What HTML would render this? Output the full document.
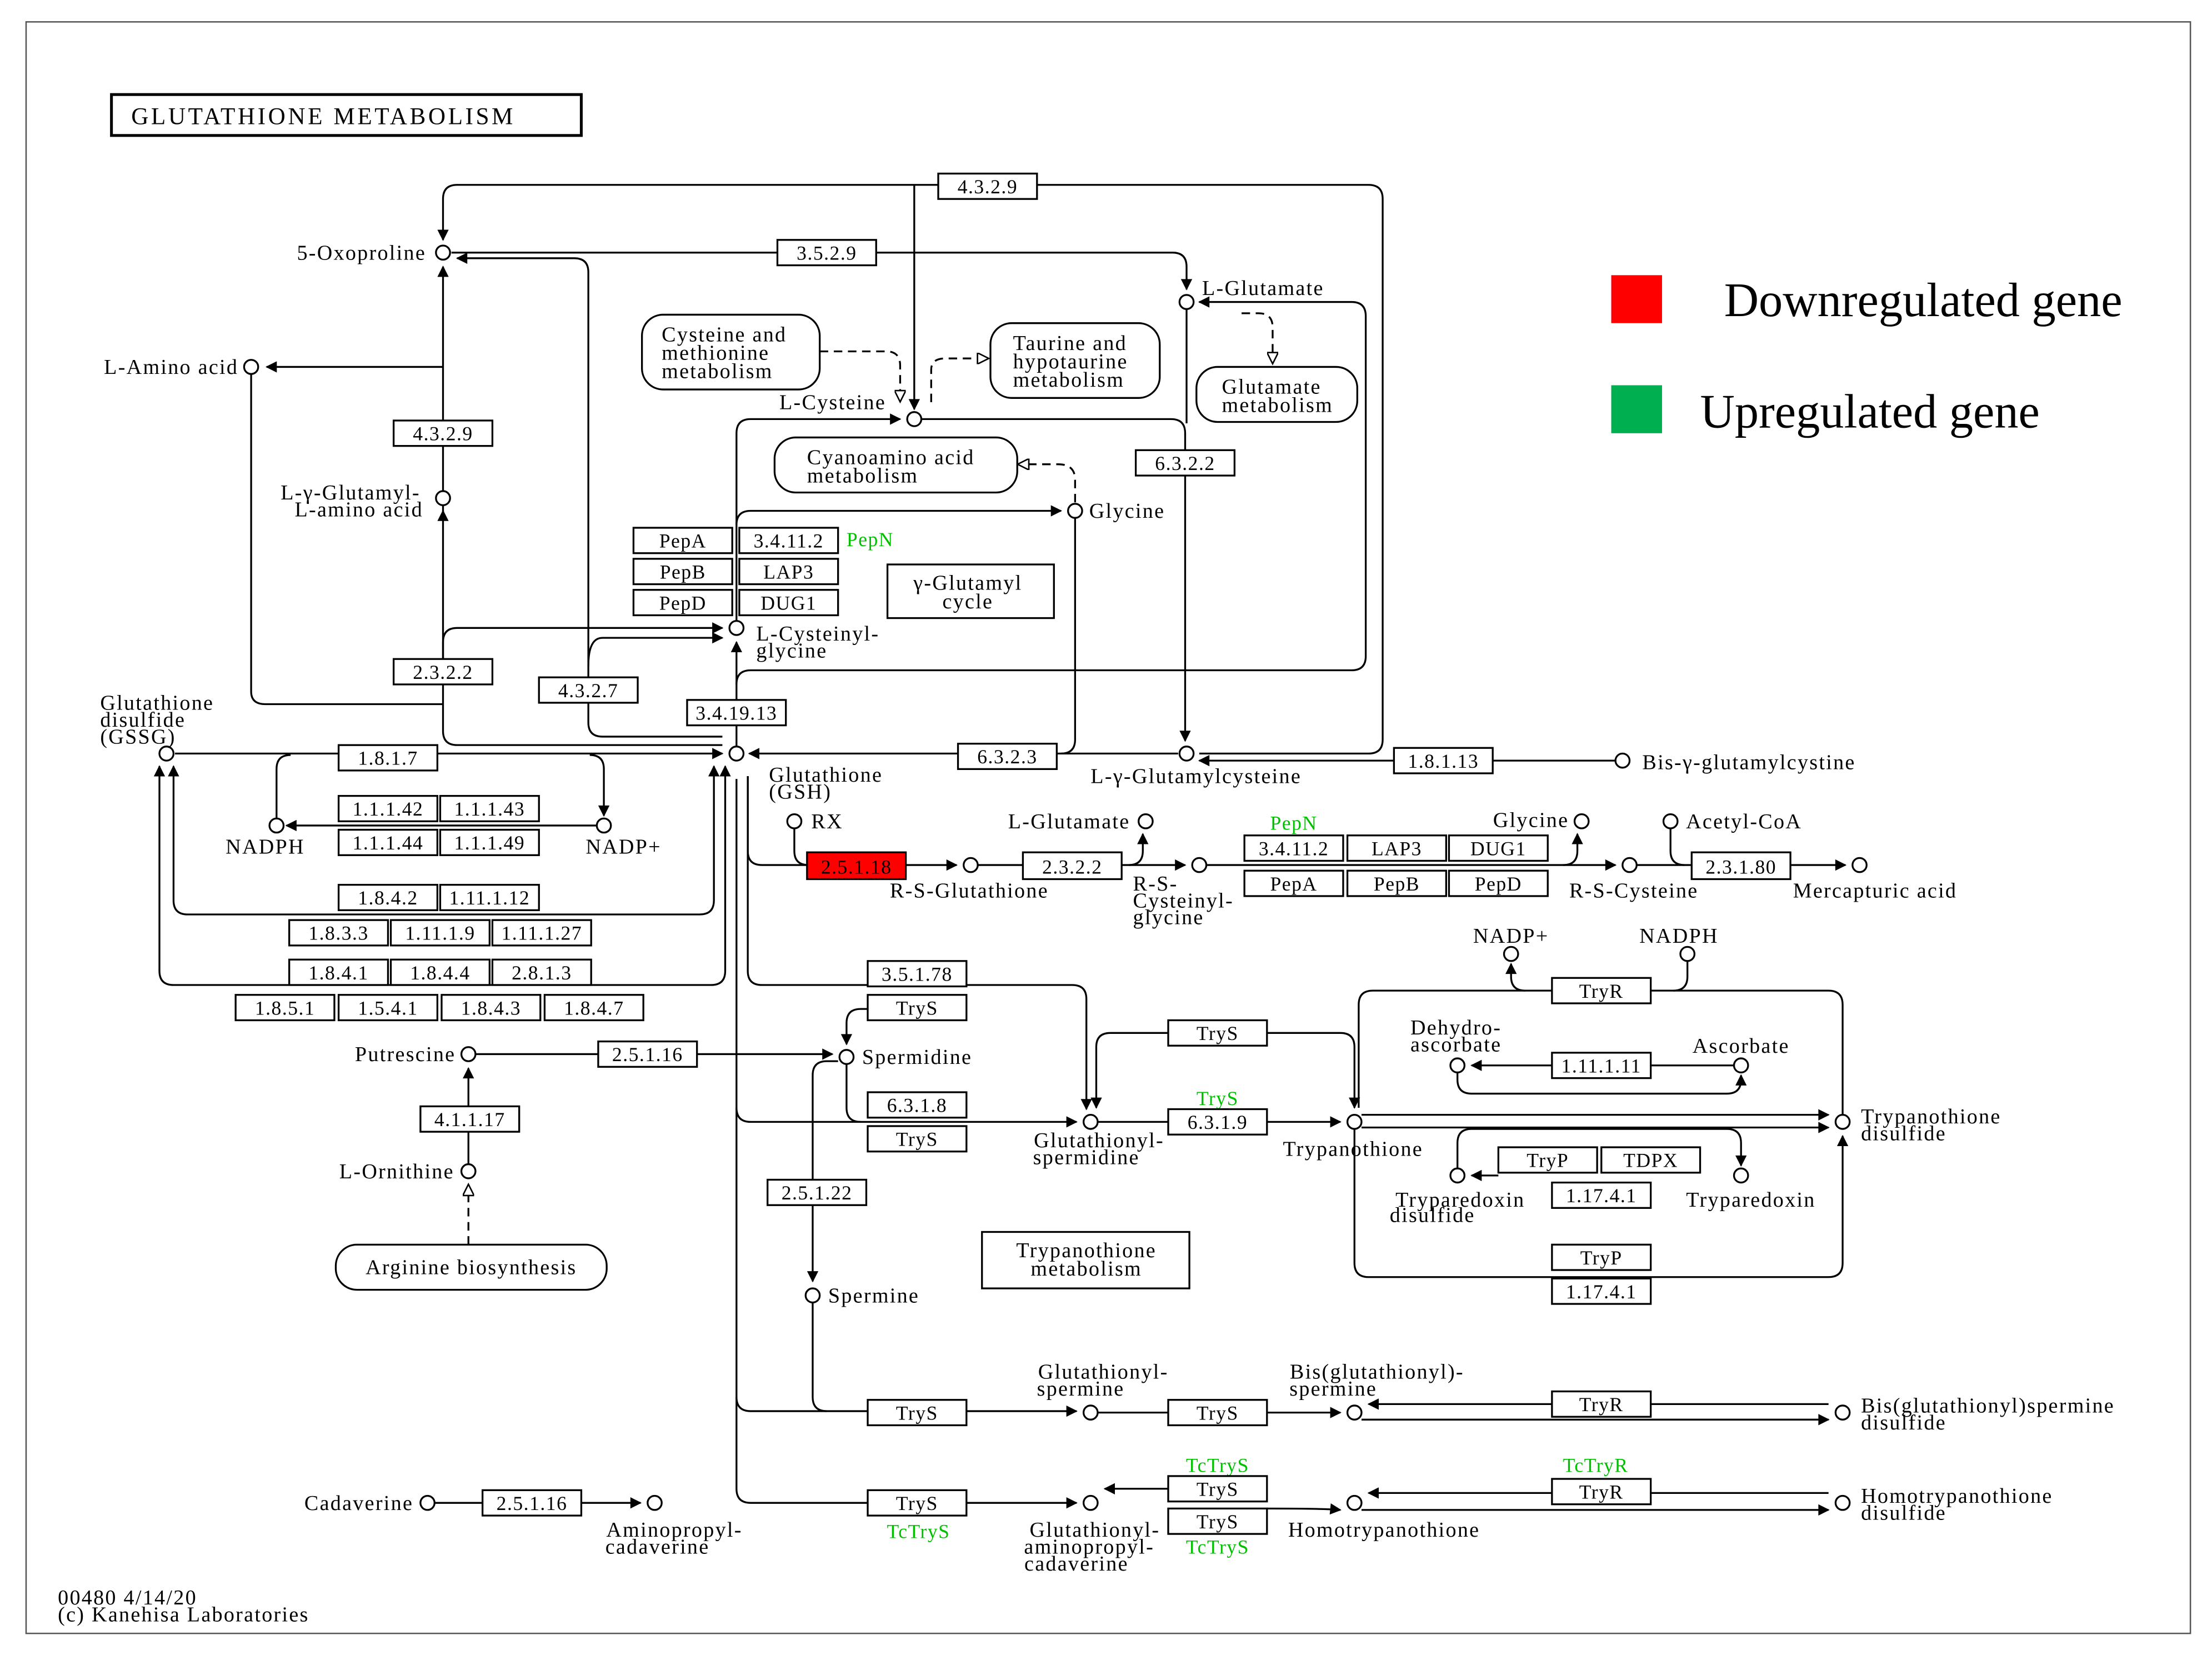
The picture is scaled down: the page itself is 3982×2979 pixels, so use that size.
<!DOCTYPE html>
<html><head><meta charset="utf-8"><style>
html,body{margin:0;padding:0;background:#fff}
svg{display:block}
text{font-family:"Liberation Serif",serif;font-size:15px;letter-spacing:0.9px;fill:#000}
.b{fill:#fff;stroke:#000;stroke-width:1.3}
.l{fill:none;stroke:#000;stroke-width:1.3}
.d{fill:none;stroke:#000;stroke-width:1.3;stroke-dasharray:6,4}
.c{fill:#fff;stroke:#000;stroke-width:1.3}
.m{text-anchor:middle}
.e{text-anchor:end}
.g{fill:#00c000}
.s{font-size:14px;letter-spacing:0.6px}
</style></head><body>
<svg width="3982" height="2979" viewBox="0 0 1567.8 1172.8" preserveAspectRatio="none" xmlns="http://www.w3.org/2000/svg">
<defs>
<marker id="a" viewBox="0 0 10 10" refX="9" refY="5" markerWidth="10" markerHeight="8" markerUnits="userSpaceOnUse" orient="auto"><path d="M0,0L10,5L0,10z" fill="#000"/></marker>
<marker id="o" viewBox="0 0 10 10" refX="9" refY="5" markerWidth="10" markerHeight="8" markerUnits="userSpaceOnUse" orient="auto"><path d="M0,0L10,5L0,10z" fill="#fff" stroke="#000" stroke-width="1.3"/></marker>
</defs>
<rect x="0" y="0" width="1568" height="1173" fill="#fff"/>
<rect x="18.5" y="15.5" width="1534" height="1142" fill="none" stroke="#555" stroke-width="1"/>
<rect x="79" y="67" width="333" height="29" fill="#fff" stroke="#000" stroke-width="2"/>
<text x="93" y="88" style="font-size:17px;letter-spacing:1.8px">GLUTATHIONE  METABOLISM</text>

<rect x="1142" y="195" width="36" height="34" fill="#ff0000"/>
<text x="1222" y="224" style="font-size:34px;letter-spacing:0">Downregulated gene</text>
<rect x="1142" y="273" width="36" height="34" fill="#00b050"/>
<text x="1205" y="303" style="font-size:34px;letter-spacing:0">Upregulated gene</text>

<g>
<path class="l" d="M850,534H970Q980,534 980,524V141Q980,131 970,131H324Q314,131 314,141V170" marker-end="url(#a)"/>
<path class="l" d="M648,131V290" marker-end="url(#a)"/>
<path class="l" d="M320,179H831Q841,179 841,189V205" marker-end="url(#a)"/>
<path class="l" d="M512,522H427Q417,522 417,512V193Q417,183 407,183H324" marker-end="url(#a)"/>
<path class="l" d="M417,472Q417,452 427,452H512" marker-end="url(#a)"/>
<path class="l" d="M512,528H324Q314,528 314,518V189" marker-end="url(#a)"/>
<path class="l" d="M314,365V362" marker-end="url(#a)"/>
<path class="l" d="M314,260H189" marker-end="url(#a)"/>
<path class="l" d="M178,265V490Q178,499 188,499H314"/>
<path class="l" d="M314,467V455Q314,445 324,445H512" marker-end="url(#a)"/>
<path class="l" d="M522,440V307Q522,297 532,297H638" marker-end="url(#a)"/>
<path class="l" d="M653,297H830Q840,297 840,307V525" marker-end="url(#a)"/>
<path class="l" d="M841,219V300"/>
<path class="l" d="M522,372Q522,362 532,362H752" marker-end="url(#a)"/>
<path class="l" d="M762,367V524Q762,534 752,534"/>
<path class="d" d="M762,356V340Q762,329 750,329H722" marker-end="url(#o)"/>
<path class="d" d="M581,249H628Q638,249 638,259V284" marker-end="url(#o)"/>
<path class="d" d="M660,285V262Q660,254 670,254H700" marker-end="url(#o)"/>
<path class="d" d="M880,222H892Q902,222 902,232V257" marker-end="url(#o)"/>
<path class="l" d="M522,485Q522,475 532,475H958Q968,475 968,465V224Q968,214 958,214H850" marker-end="url(#a)"/>
<path class="l" d="M522,529V455" marker-end="url(#a)"/>
<path class="l" d="M835,534H531" marker-end="url(#a)"/>
<path class="l" d="M1145,539H850" marker-end="url(#a)"/>
<path class="l" d="M124,534H512" marker-end="url(#a)"/>
<path class="l" d="M196,580V545Q196,535 206,535"/>
<path class="l" d="M418,535Q428,535 428,545V578" marker-end="url(#a)"/>
<path class="l" d="M423,585H203" marker-end="url(#a)"/>
<path class="l" d="M506,545V638Q506,648 496,648H133Q123,648 123,638V543" marker-end="url(#a)"/>
<path class="l" d="M514,545V688Q514,698 504,698H123Q113,698 113,688V543" marker-end="url(#a)"/>
<path class="l" d="M506,548V543" marker-end="url(#a)"/>
<path class="l" d="M514,548V543" marker-end="url(#a)"/>
<path class="l" d="M530,550V603Q530,613 540,613H678" marker-end="url(#a)"/>
<path class="l" d="M563,587V603Q563,613 573,613"/>
<path class="l" d="M522,552V1055Q522,1065 532,1065H763" marker-end="url(#a)"/>
<path class="l" d="M530,550V688Q530,698 540,698H760Q770,698 770,708V786" marker-end="url(#a)"/>
<path class="l" d="M522,785Q522,795 532,795H763" marker-end="url(#a)"/>
<path class="l" d="M522,990Q522,1000 532,1000H763" marker-end="url(#a)"/>
<path class="l" d="M693,613H800Q810,613 810,603V591" marker-end="url(#a)"/>
<path class="l" d="M800,613H840" marker-end="url(#a)"/>
<path class="l" d="M855,613H1145" marker-end="url(#a)"/>
<path class="l" d="M1108,613Q1118,613 1118,603V591" marker-end="url(#a)"/>
<path class="l" d="M1184,587V603Q1184,613 1194,613"/>
<path class="l" d="M1160,613H1308" marker-end="url(#a)"/>
<path class="l" d="M337,747H590" marker-end="url(#a)"/>
<path class="l" d="M332,825V757" marker-end="url(#a)"/>
<path class="d" d="M332,882V840" marker-end="url(#o)"/>
<path class="l" d="M615,715H610Q600,715 600,725V740" marker-end="url(#a)"/>
<path class="l" d="M594,752H586Q576,752 576,762V908" marker-end="url(#a)"/>
<path class="l" d="M600,754V785Q600,795 610,795"/>
<path class="l" d="M576,923V990Q576,1000 586,1000"/>
<path class="l" d="M828,732H787Q777,732 777,742V785" marker-end="url(#a)"/>
<path class="l" d="M898,732H950Q960,732 960,742V785" marker-end="url(#a)"/>
<path class="l" d="M778,795H950" marker-end="url(#a)"/>
<path class="l" d="M965,790H1296" marker-end="url(#a)"/>
<path class="l" d="M965,799H1296" marker-end="url(#a)"/>
<path class="l" d="M960,800V895Q960,905 970,905H1296Q1306,905 1306,895V805" marker-end="url(#a)"/>
<path class="l" d="M963,785V712Q963,702 973,702H1296Q1306,702 1306,712V790"/>
<path class="l" d="M1196,681V692Q1196,702 1186,702"/>
<path class="l" d="M1081,702Q1071,702 1071,692V683" marker-end="url(#a)"/>
<path class="l" d="M1229,755H1043" marker-end="url(#a)"/>
<path class="l" d="M1033,760V765Q1033,775 1043,775H1224Q1234,775 1234,765V762" marker-end="url(#a)"/>
<path class="l" d="M1062,833H1043" marker-end="url(#a)"/>
<path class="l" d="M1033,828V810Q1033,800 1043,800H1224Q1234,800 1234,810V826" marker-end="url(#a)"/>
<path class="l" d="M778,1001H950" marker-end="url(#a)"/>
<path class="l" d="M1296,995H970" marker-end="url(#a)"/>
<path class="l" d="M965,1006H1296" marker-end="url(#a)"/>
<path class="l" d="M828,1055H783" marker-end="url(#a)"/>
<path class="l" d="M898,1069Q940,1069 950,1070" marker-end="url(#a)"/>
<path class="l" d="M1296,1058H970" marker-end="url(#a)"/>
<path class="l" d="M965,1070H1296" marker-end="url(#a)"/>
<path class="l" d="M308,1065H454" marker-end="url(#a)"/>
</g>

<rect class="b" x="455" y="223" width="126" height="53" rx="15"/>
<text x="469" y="242">Cysteine and</text><text x="469" y="255">methionine</text><text x="469" y="268">metabolism</text>
<rect class="b" x="702" y="229" width="120" height="53" rx="15"/>
<text x="718" y="248">Taurine and</text><text x="718" y="261">hypotaurine</text><text x="718" y="274">metabolism</text>
<rect class="b" x="848" y="260" width="114" height="39" rx="15"/>
<text x="866" y="279">Glutamate</text><text x="866" y="292">metabolism</text>
<rect class="b" x="549" y="310" width="172" height="39" rx="15"/>
<text x="572" y="329">Cyanoamino acid</text><text x="572" y="342">metabolism</text>
<rect class="b" x="238" y="882" width="192" height="32" rx="15"/>
<text x="334" y="903" class="m">Arginine biosynthesis</text>
<rect class="b" x="629" y="400" width="118" height="38"/>
<text x="686" y="418" class="m">γ-Glutamyl</text><text x="686" y="431" class="m">cycle</text>
<rect class="b" x="696" y="873" width="147" height="40"/>
<text x="770" y="891" class="m">Trypanothione</text><text x="770" y="904" class="m">metabolism</text>

<g class="s">
<rect class="b" x="665" y="123" width="70" height="18"/><text class="m s" x="700" y="137">4.3.2.9</text>
<rect class="b" x="551" y="170" width="70" height="18"/><text class="m s" x="586" y="184">3.5.2.9</text>
<rect class="b" x="279" y="298" width="70" height="18"/><text class="m s" x="314" y="312">4.3.2.9</text>
<rect class="b" x="805" y="319" width="70" height="18"/><text class="m s" x="840" y="333">6.3.2.2</text>
<rect class="b" x="449" y="374" width="70" height="18"/><text class="m s" x="484" y="388">PepA</text>
<rect class="b" x="524" y="374" width="70" height="18"/><text class="m s" x="559" y="388">3.4.11.2</text>
<text x="600" y="387" class="g s">PepN</text>
<rect class="b" x="449" y="396" width="70" height="18"/><text class="m s" x="484" y="410">PepB</text>
<rect class="b" x="524" y="396" width="70" height="18"/><text class="m s" x="559" y="410">LAP3</text>
<rect class="b" x="449" y="418" width="70" height="18"/><text class="m s" x="484" y="432">PepD</text>
<rect class="b" x="524" y="418" width="70" height="18"/><text class="m s" x="559" y="432">DUG1</text>
<rect class="b" x="279" y="467" width="70" height="18"/><text class="m s" x="314" y="481">2.3.2.2</text>
<rect class="b" x="382" y="480" width="70" height="18"/><text class="m s" x="417" y="494">4.3.2.7</text>
<rect class="b" x="487" y="496" width="70" height="18"/><text class="m s" x="522" y="510">3.4.19.13</text>
<rect class="b" x="240" y="528" width="70" height="18"/><text class="m s" x="275" y="542">1.8.1.7</text>
<rect class="b" x="679" y="527" width="70" height="18"/><text class="m s" x="714" y="541">6.3.2.3</text>
<rect class="b" x="988" y="530" width="70" height="18"/><text class="m s" x="1023" y="544">1.8.1.13</text>
<rect class="b" x="240" y="564" width="70" height="18"/><text class="m s" x="275" y="578">1.1.1.42</text>
<rect class="b" x="312" y="564" width="70" height="18"/><text class="m s" x="347" y="578">1.1.1.43</text>
<rect class="b" x="240" y="588" width="70" height="18"/><text class="m s" x="275" y="602">1.1.1.44</text>
<rect class="b" x="312" y="588" width="70" height="18"/><text class="m s" x="347" y="602">1.1.1.49</text>
<rect class="b" x="240" y="627" width="70" height="18"/><text class="m s" x="275" y="641">1.8.4.2</text>
<rect class="b" x="312" y="627" width="70" height="18"/><text class="m s" x="347" y="641">1.11.1.12</text>
<rect class="b" x="205" y="652" width="70" height="18"/><text class="m s" x="240" y="666">1.8.3.3</text>
<rect class="b" x="277" y="652" width="70" height="18"/><text class="m s" x="312" y="666">1.11.1.9</text>
<rect class="b" x="349" y="652" width="70" height="18"/><text class="m s" x="384" y="666">1.11.1.27</text>
<rect class="b" x="205" y="680" width="70" height="18"/><text class="m s" x="240" y="694">1.8.4.1</text>
<rect class="b" x="277" y="680" width="70" height="18"/><text class="m s" x="312" y="694">1.8.4.4</text>
<rect class="b" x="349" y="680" width="70" height="18"/><text class="m s" x="384" y="694">2.8.1.3</text>
<rect class="b" x="167" y="705" width="70" height="18"/><text class="m s" x="202" y="719">1.8.5.1</text>
<rect class="b" x="240" y="705" width="70" height="18"/><text class="m s" x="275" y="719">1.5.4.1</text>
<rect class="b" x="313" y="705" width="70" height="18"/><text class="m s" x="348" y="719">1.8.4.3</text>
<rect class="b" x="386" y="705" width="70" height="18"/><text class="m s" x="421" y="719">1.8.4.7</text>
<rect x="572" y="604" width="70" height="19" fill="#ff0000" stroke="#000" stroke-width="1.3"/><text class="m s" x="607" y="619">2.5.1.18</text>
<rect class="b" x="725" y="604" width="70" height="19"/><text class="m s" x="760" y="619">2.3.2.2</text>
<text x="917" y="588" class="g m s">PepN</text>
<rect class="b" x="882" y="592" width="70" height="18"/><text class="m s" x="917" y="606">3.4.11.2</text>
<rect class="b" x="955" y="592" width="70" height="18"/><text class="m s" x="990" y="606">LAP3</text>
<rect class="b" x="1027" y="592" width="70" height="18"/><text class="m s" x="1062" y="606">DUG1</text>
<rect class="b" x="882" y="617" width="70" height="18"/><text class="m s" x="917" y="631">PepA</text>
<rect class="b" x="955" y="617" width="70" height="18"/><text class="m s" x="990" y="631">PepB</text>
<rect class="b" x="1027" y="617" width="70" height="18"/><text class="m s" x="1062" y="631">PepD</text>
<rect class="b" x="1199" y="604" width="70" height="19"/><text class="m s" x="1234" y="619">2.3.1.80</text>
<rect class="b" x="1100" y="693" width="70" height="18"/><text class="m s" x="1135" y="707">TryR</text>
<rect class="b" x="615" y="681" width="70" height="18"/><text class="m s" x="650" y="695">3.5.1.78</text>
<rect class="b" x="615" y="705" width="70" height="18"/><text class="m s" x="650" y="719">TryS</text>
<rect class="b" x="828" y="723" width="70" height="18"/><text class="m s" x="863" y="737">TryS</text>
<rect class="b" x="1100" y="746" width="70" height="18"/><text class="m s" x="1135" y="760">1.11.1.11</text>
<rect class="b" x="424" y="738" width="70" height="18"/><text class="m s" x="459" y="752">2.5.1.16</text>
<rect class="b" x="615" y="774" width="70" height="18"/><text class="m s" x="650" y="788">6.3.1.8</text>
<rect class="b" x="615" y="798" width="70" height="18"/><text class="m s" x="650" y="812">TryS</text>
<text x="863" y="783" class="g m s">TryS</text>
<rect class="b" x="828" y="786" width="70" height="18"/><text class="m s" x="863" y="800">6.3.1.9</text>
<rect class="b" x="298" y="784" width="70" height="18"/><text class="m s" x="333" y="798">4.1.1.17</text>
<rect class="b" x="1062" y="813" width="70" height="18"/><text class="m s" x="1097" y="827">TryP</text>
<rect class="b" x="1135" y="813" width="70" height="18"/><text class="m s" x="1170" y="827">TDPX</text>
<rect class="b" x="1100" y="838" width="70" height="18"/><text class="m s" x="1135" y="852">1.17.4.1</text>
<rect class="b" x="544" y="836" width="70" height="18"/><text class="m s" x="579" y="850">2.5.1.22</text>
<rect class="b" x="1100" y="882" width="70" height="18"/><text class="m s" x="1135" y="896">TryP</text>
<rect class="b" x="1100" y="906" width="70" height="18"/><text class="m s" x="1135" y="920">1.17.4.1</text>
<rect class="b" x="615" y="992" width="70" height="18"/><text class="m s" x="650" y="1006">TryS</text>
<rect class="b" x="828" y="992" width="70" height="18"/><text class="m s" x="863" y="1006">TryS</text>
<rect class="b" x="1100" y="986" width="70" height="18"/><text class="m s" x="1135" y="1000">TryR</text>
<text x="863" y="1043" class="g m s">TcTryS</text>
<rect class="b" x="828" y="1046" width="70" height="18"/><text class="m s" x="863" y="1060">TryS</text>
<rect class="b" x="828" y="1069" width="70" height="18"/><text class="m s" x="863" y="1083">TryS</text>
<text x="863" y="1101" class="g m s">TcTryS</text>
<text x="1131" y="1043" class="g m s">TcTryR</text>
<rect class="b" x="1100" y="1048" width="70" height="18"/><text class="m s" x="1135" y="1062">TryR</text>
<rect class="b" x="342" y="1056" width="70" height="18"/><text class="m s" x="377" y="1070">2.5.1.16</text>
<rect class="b" x="615" y="1056" width="70" height="18"/><text class="m s" x="650" y="1070">TryS</text>
<text x="651" y="1090" class="g m s">TcTryS</text>
</g>

<g>
<circle class="c" cx="314" cy="179" r="5"/><text class="e" x="302" y="184">5-Oxoproline</text>
<circle class="c" cx="841" cy="214" r="5"/><text x="852" y="209">L-Glutamate</text>
<circle class="c" cx="178" cy="260" r="5"/><text class="e" x="169" y="265">L-Amino acid</text>
<circle class="c" cx="648" cy="297" r="5"/><text class="e" x="628" y="290">L-Cysteine</text>
<circle class="c" cx="314" cy="353" r="5"/><text class="e" x="298" y="354">L-γ-Glutamyl-</text><text class="e" x="300" y="366">L-amino acid</text>
<circle class="c" cx="762" cy="362" r="5"/><text x="772" y="367">Glycine</text>
<circle class="c" cx="522" cy="445" r="5"/><text x="536" y="454">L-Cysteinyl-</text><text x="536" y="466">glycine</text>
<circle class="c" cx="118" cy="534" r="5"/><text x="71" y="503">Glutathione</text><text x="71" y="515">disulfide</text><text x="71" y="527">(GSSG)</text>
<circle class="c" cx="522" cy="534" r="5"/><text x="545" y="554">Glutathione</text><text x="545" y="566">(GSH)</text>
<circle class="c" cx="841" cy="534" r="5"/><text x="773" y="555">L-γ-Glutamylcysteine</text>
<circle class="c" cx="1150" cy="539" r="5"/><text x="1164" y="545">Bis-γ-glutamylcystine</text>
<circle class="c" cx="196" cy="585" r="5"/><text class="m" x="188" y="605">NADPH</text>
<circle class="c" cx="428" cy="585" r="5"/><text class="m" x="442" y="605">NADP+</text>
<circle class="c" cx="563" cy="582" r="5"/><text x="575" y="587">RX</text>
<circle class="c" cx="688" cy="613" r="5"/><text class="m" x="687" y="636">R-S-Glutathione</text>
<circle class="c" cx="812" cy="582" r="5"/><text class="e" x="801" y="587">L-Glutamate</text>
<circle class="c" cx="850" cy="613" r="5"/><text x="803" y="631">R-S-</text><text x="803" y="643">Cysteinyl-</text><text x="803" y="655">glycine</text>
<circle class="c" cx="1121" cy="582" r="5"/><text class="e" x="1112" y="586">Glycine</text>
<circle class="c" cx="1184" cy="582" r="5"/><text x="1195" y="587">Acetyl-CoA</text>
<circle class="c" cx="1155" cy="613" r="5"/><text class="m" x="1158" y="636">R-S-Cysteine</text>
<circle class="c" cx="1318" cy="613" r="5"/><text class="m" x="1329" y="636">Mercapturic acid</text>
<circle class="c" cx="1071" cy="676" r="5"/><text class="m" x="1071" y="668">NADP+</text>
<circle class="c" cx="1196" cy="676" r="5"/><text class="m" x="1190" y="668">NADPH</text>
<circle class="c" cx="332" cy="747" r="5"/><text class="e" x="323" y="752">Putrescine</text>
<circle class="c" cx="600" cy="749" r="5"/><text x="611" y="754">Spermidine</text>
<circle class="c" cx="332" cy="830" r="5"/><text class="e" x="322" y="835">L-Ornithine</text>
<circle class="c" cx="1033" cy="755" r="5"/><text class="m" x="1032" y="733">Dehydro-</text><text class="m" x="1032" y="745">ascorbate</text>
<circle class="c" cx="1234" cy="755" r="5"/><text class="m" x="1234" y="746">Ascorbate</text>
<circle class="c" cx="773" cy="795" r="5"/><text class="m" x="779" y="813">Glutathionyl-</text><text class="m" x="770" y="825">spermidine</text>
<circle class="c" cx="960" cy="795" r="5"/><text class="m" x="959" y="819">Trypanothione</text>
<circle class="c" cx="1306" cy="795" r="5"/><text x="1319" y="796">Trypanothione</text><text x="1319" y="808">disulfide</text>
<circle class="c" cx="1033" cy="833" r="5"/><text class="m" x="1035" y="855">Tryparedoxin</text><text x="985" y="866">disulfide</text>
<circle class="c" cx="1234" cy="833" r="5"/><text class="m" x="1241" y="855">Tryparedoxin</text>
<circle class="c" cx="576" cy="918" r="5"/><text x="587" y="923">Spermine</text>
<circle class="c" cx="773" cy="1001" r="5"/><text class="m" x="782" y="977">Glutathionyl-</text><text class="m" x="766" y="989">spermine</text>
<circle class="c" cx="960" cy="1001" r="5"/><text class="m" x="976" y="977">Bis(glutathionyl)-</text><text class="m" x="945" y="989">spermine</text>
<circle class="c" cx="1306" cy="1001" r="5"/><text x="1319" y="1001">Bis(glutathionyl)spermine</text><text x="1319" y="1013">disulfide</text>
<circle class="c" cx="303" cy="1065" r="5"/><text class="e" x="293" y="1070">Cadaverine</text>
<circle class="c" cx="464" cy="1065" r="5"/><text class="m" x="478" y="1089">Aminopropyl-</text><text class="m" x="466" y="1101">cadaverine</text>
<circle class="c" cx="773" cy="1065" r="5"/><text class="m" x="776" y="1089">Glutathionyl-</text><text class="m" x="772" y="1101">aminopropyl-</text><text class="m" x="763" y="1113">cadaverine</text>
<circle class="c" cx="960" cy="1065" r="5"/><text class="m" x="981" y="1089">Homotrypanothione</text>
<circle class="c" cx="1306" cy="1065" r="5"/><text x="1319" y="1065">Homotrypanothione</text><text x="1319" y="1077">disulfide</text>
</g>

<text x="41" y="1137">00480 4/14/20</text>
<text x="41" y="1149">(c) Kanehisa Laboratories</text>
</svg>
</body></html>
